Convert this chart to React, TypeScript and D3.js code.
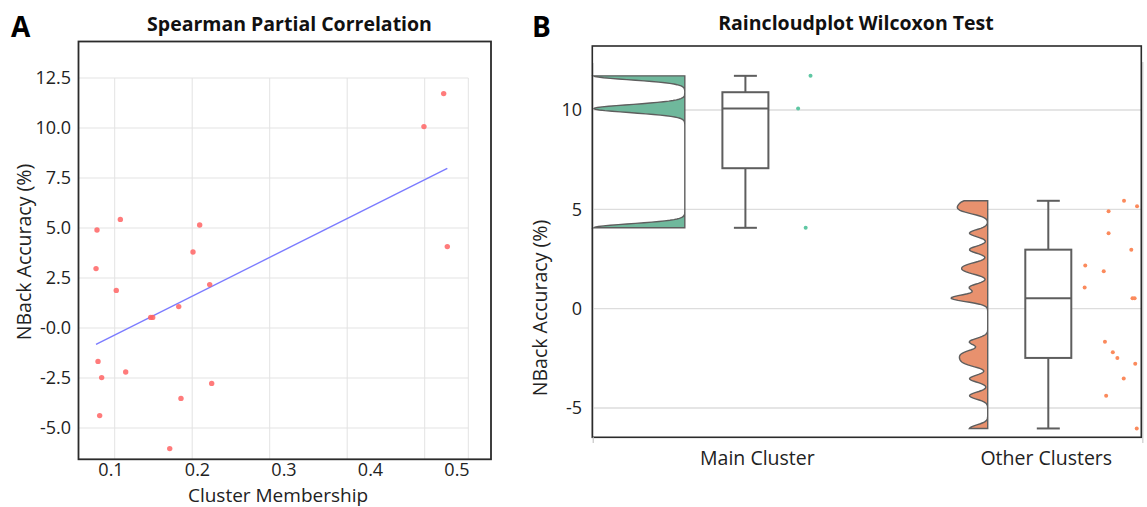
import React from "react";
import * as d3 from "d3";

// ---------- Data ----------
// Panel A: Spearman partial correlation scatter
const clusterMembership = [
  0.0838, 0.1108, 0.0827, 0.1061, 0.1948, 0.2025, 0.2141, 0.1783, 0.1459, 0.1482,
  0.085, 0.0892, 0.117, 0.0869, 0.1809, 0.2164, 0.1679, 0.4618, 0.4846, 0.4888,
];
const nbackAccuracy = [
  4.9, 5.43, 2.97, 1.88, 3.8, 5.15, 2.17, 1.07, 0.53, 0.53,
  -1.67, -2.48, -2.2, -4.38, -3.52, -2.77, -6.03, 10.07, 11.72, 4.07,
];
const regSlope = 21.67;
const regIntercept = -2.61;
const aYTicks = [12.5, 10, 7.5, 5, 2.5, 0, -2.5, -5];
const aYTickLabels = ["12.5", "10.0", "7.5", "5.0", "2.5", "-0.0", "-2.5", "-5.0"];
const aXTicks = [0.1, 0.2, 0.3, 0.4, 0.5];
const aXTickLabels = ["0.1", "0.2", "0.3", "0.4", "0.5"];

// Panel B: raincloud plot
const categories = ["Main Cluster", "Other Clusters"];
const mainCluster = [11.72, 10.07, 4.07];
const mainJitter = [0.215, 0.174, 0.199];
const otherClusters = [
  5.43, 5.15, 4.9, 3.8, 2.97, 2.17, 1.88, 1.07, 0.53, 0.53,
  -1.67, -2.2, -2.48, -2.77, -3.52, -4.38, -6.03,
];
const otherJitter = [
  0.25, 0.293, 0.199, 0.199, 0.274, 0.122, 0.183, 0.12, 0.278, 0.285,
  0.187, 0.213, 0.228, 0.287, 0.249, 0.191, 0.292,
];
const bYTicks = [10, 5, 0, -5];
const bYTickLabels = ["10", "5", "0", "-5"];
const bwFactor = 0.05;

// ---------- Styles ----------
const FONT = "'Open Sans', 'Noto Sans', sans-serif";
const GRID = "#e3e3e3";
const FRAME = "#2b2b2b";
const BOXSTROKE = "#5e5e5e";
const cloudFill = ["#6fb89c", "#e8916e"];
const rainFill = ["#5ec7a3", "#fb8a5c"];
const TICK_FS = 18;
const LABEL_FS = 19.5;
const TITLE_FS = 19.5;
const catLabelShift = [12, -2];

function kde(values: number[], factor: number, n = 240) {
  const sd = d3.deviation(values) as number;
  const h = factor * sd;
  const lo = d3.min(values) as number;
  const hi = d3.max(values) as number;
  const pts: [number, number][] = [];
  for (let i = 0; i <= n; i++) {
    const y = lo + ((hi - lo) * i) / n;
    let s = 0;
    for (const v of values) {
      const z = (y - v) / h;
      s += Math.exp(-0.5 * z * z);
    }
    pts.push([y, s / (values.length * h * Math.sqrt(2 * Math.PI))]);
  }
  return pts;
}

function PanelA() {
  const x = d3.scaleLinear().domain([0.1, 0.5]).range([111, 457]);
  const y = d3.scaleLinear().domain([-5, 12.5]).range([428, 78]);
  const gx = d3.scaleLinear().domain([0.1, 0.5]).range([114.7, 424.7]);
  const gridRight = 468.3;
  const frame = { l: 78.5, r: 491, t: 41.5, b: 459.3 };
  const xMin = d3.min(clusterMembership) as number;
  const xMax = d3.max(clusterMembership) as number;
  const line = d3
    .line<number>()
    .x((d) => x(d))
    .y((d) => y(regIntercept + regSlope * d));
  return (
    <g>
      <text x={11} y={37} fontFamily={FONT} fontWeight={700} fontSize={28} fill="#000">A</text>
      <text x={289.5} y={31} textAnchor="middle" fontFamily={FONT} fontWeight={700} fontSize={TITLE_FS} fill="#111">
        Spearman Partial Correlation
      </text>
      {aYTicks.map((t) => (
        <line key={"hy" + t} x1={frame.l} x2={gridRight} y1={y(t)} y2={y(t)} stroke={GRID} strokeWidth={1} />
      ))}
      {aXTicks.map((t) => (
        <line key={"vx" + t} x1={gx(t)} x2={gx(t)} y1={y(12.5)} y2={frame.b} stroke={GRID} strokeWidth={1} />
      ))}
      <line x1={gridRight} x2={gridRight} y1={y(12.5)} y2={frame.b} stroke={GRID} strokeWidth={1} />
      <path d={line([xMin, xMax]) || ""} stroke="#7b7bff" strokeWidth={1.4} fill="none" />
      {clusterMembership.map((m, i) => (
        <circle key={"p" + i} cx={x(m)} cy={y(nbackAccuracy[i])} r={2.7} fill="#ff6464" fillOpacity={0.85} />
      ))}
      <rect x={frame.l} y={frame.t} width={frame.r - frame.l} height={frame.b - frame.t} fill="none" stroke={FRAME} strokeWidth={1.8} />
      {aYTicks.map((t, i) => (
        <text key={"yl" + t} x={71} y={y(t)} dy="0.36em" textAnchor="end" fontFamily={FONT} fontSize={TICK_FS} fill="#222">
          {aYTickLabels[i]}
        </text>
      ))}
      {aXTicks.map((t, i) => (
        <text key={"xl" + t} x={x(t)} y={475.5} textAnchor="middle" fontFamily={FONT} fontSize={TICK_FS} fill="#222">
          {aXTickLabels[i]}
        </text>
      ))}
      <text x={278} y={501.5} textAnchor="middle" fontFamily={FONT} fontSize={19} fill="#222">Cluster Membership</text>
      <text transform="translate(31,252) rotate(-90)" textAnchor="middle" fontFamily={FONT} fontSize={LABEL_FS} fill="#222">
        NBack Accuracy (%)
      </text>
    </g>
  );
}

function PanelB() {
  const x = d3.scaleLinear().domain([0, 1]).range([745.4, 1048.3]);
  const y = d3.scaleLinear().domain([-5, 10]).range([408, 110]);
  const frame = { l: 592.3, r: 1141.3, t: 46, b: 437.3 };
  const groups = [mainCluster, otherClusters];
  const jitters = [mainJitter, otherJitter];
  const dens = groups.map((g) => kde(g, bwFactor));
  const maxD = d3.max(dens.flat(), (d) => d[1]) as number;
  const w = d3.scaleLinear().domain([0, maxD]).range([0, 91]);
  const cloudOffset = 0.2;
  const boxHalf = 23;
  const capHalf = 11.5;
  return (
    <g>
      <text x={532} y={37} fontFamily={FONT} fontWeight={700} fontSize={28} fill="#000">B</text>
      <text x={856} y={29.5} textAnchor="middle" fontFamily={FONT} fontWeight={700} fontSize={TITLE_FS} fill="#111">
        Raincloudplot Wilcoxon Test
      </text>
      <line x1={frame.l + 1} x2={frame.l + 1} y1={63} y2={443} stroke="#dcdcdc" strokeWidth={1.2} />
      <line x1={frame.r + 1.5} x2={frame.r + 1.5} y1={62} y2={443} stroke="#d6d6d6" strokeWidth={1.5} />
      {bYTicks.map((t) => (
        <line key={"g" + t} x1={frame.l} x2={frame.r} y1={y(t)} y2={y(t)} stroke="#dddddd" strokeWidth={1.3} />
      ))}
      {groups.map((g, gi) => {
        const right = x(gi - cloudOffset);
        const d = dens[gi];
        const area = d3
          .area<[number, number]>()
          .y((p) => y(p[0]))
          .x0(right)
          .x1((p) => right - w(p[1]))
          .curve(d3.curveLinear);
        return (
          <path key={"v" + gi} d={area(d) || ""} fill={cloudFill[gi]} stroke={BOXSTROKE} strokeWidth={1.4} />
        );
      })}
      {groups.map((g, gi) => {
        const s = [...g].sort(d3.ascending);
        const q1 = d3.quantileSorted(s, 0.25) as number;
        const med = d3.quantileSorted(s, 0.5) as number;
        const q3 = d3.quantileSorted(s, 0.75) as number;
        const lo = s[0];
        const hi = s[s.length - 1];
        const cx = x(gi);
        return (
          <g key={"b" + gi} stroke={BOXSTROKE} strokeWidth={2}>
            <line x1={cx} x2={cx} y1={y(hi)} y2={y(q3)} />
            <line x1={cx} x2={cx} y1={y(q1)} y2={y(lo)} />
            <line x1={cx - capHalf} x2={cx + capHalf} y1={y(hi)} y2={y(hi)} />
            <line x1={cx - capHalf} x2={cx + capHalf} y1={y(lo)} y2={y(lo)} />
            <rect x={cx - boxHalf} y={y(q3)} width={boxHalf * 2} height={y(q1) - y(q3)} fill="#fff" />
            <line x1={cx - boxHalf} x2={cx + boxHalf} y1={y(med)} y2={y(med)} />
          </g>
        );
      })}
      {groups.map((g, gi) =>
        g.map((v, i) => (
          <circle key={"r" + gi + "-" + i} cx={x(gi + jitters[gi][i])} cy={y(v)} r={2} fill={rainFill[gi]} />
        ))
      )}
      <rect x={frame.l} y={frame.t} width={frame.r - frame.l} height={frame.b - frame.t} fill="none" stroke={FRAME} strokeWidth={1.6} />
      <line x1={frame.l + 1} x2={frame.l + 1} y1={frame.b} y2={443} stroke="#cfcfcf" strokeWidth={1.2} />
      {bYTicks.map((t, i) => (
        <text key={"yt" + t} x={582} y={y(t)} dy="0.36em" textAnchor="end" fontFamily={FONT} fontSize={TICK_FS} fill="#222">
          {bYTickLabels[i]}
        </text>
      ))}
      {categories.map((c, i) => (
        <text key={c} x={x(i) + catLabelShift[i]} y={465} textAnchor="middle" fontFamily={FONT} fontSize={LABEL_FS} fill="#222">
          {c}
        </text>
      ))}
      <text transform="translate(547,308) rotate(-90)" textAnchor="middle" fontFamily={FONT} fontSize={LABEL_FS} fill="#222">
        NBack Accuracy (%)
      </text>
    </g>
  );
}

export default function App() {
  return (
    <svg
      width={1147}
      height={507}
      style={{ position: "absolute", left: 0, top: 0, background: "#fff" }}
    >
      <rect width={1147} height={507} fill="#fff" />
      <PanelA />
      <PanelB />
    </svg>
  );
}
